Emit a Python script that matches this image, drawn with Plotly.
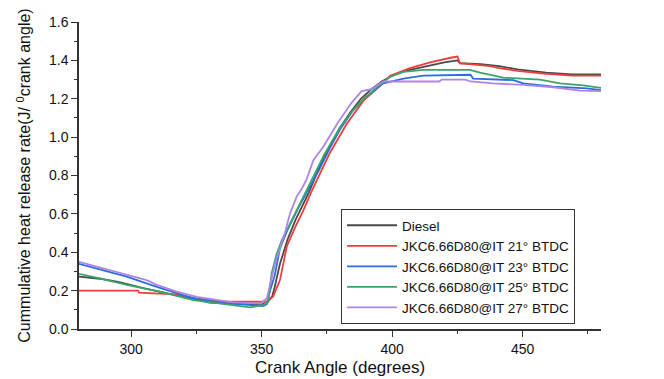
import plotly.graph_objects as go

names = ["Diesel", "JKC6.66D80@IT 21° BTDC", "JKC6.66D80@IT 23° BTDC",
         "JKC6.66D80@IT 25° BTDC", "JKC6.66D80@IT 27° BTDC"]
colors = ["#4a4a4a", "#f23c3c", "#2a6fdb", "#3aa56a", "#b283e6"]

diesel_x = [280, 288, 295, 305, 317, 325, 330, 339, 345, 350, 352, 354, 355, 357, 360, 363, 366, 368, 372, 376,
            380, 384, 388, 392, 396, 400, 405, 410, 415, 420, 425, 426, 434, 441, 448, 459, 469, 480]
diesel_y = [0.273, 0.262, 0.245, 0.212, 0.177, 0.155, 0.137, 0.13, 0.128, 0.128, 0.135, 0.17, 0.22, 0.34, 0.47,
            0.57, 0.65, 0.71, 0.84, 0.95, 1.05, 1.13, 1.2, 1.25, 1.29, 1.32, 1.345, 1.36, 1.375, 1.39, 1.40, 1.385,
            1.38, 1.37, 1.353, 1.336, 1.327, 1.327]

red_x = [280, 302.6, 303, 317, 325, 334, 352, 354.4, 357, 359.6, 362.8, 366, 369.2, 372, 376.2, 382.6, 389,
         394.7, 399.2, 406.8, 414.5, 422.8, 425, 426, 437.5, 441, 448, 459, 469, 480]
red_y = [0.2, 0.2, 0.19, 0.18, 0.16, 0.142, 0.142, 0.17, 0.255, 0.43, 0.53, 0.62, 0.72, 0.8, 0.92, 1.07, 1.19,
         1.26, 1.32, 1.36, 1.39, 1.415, 1.42, 1.385, 1.37, 1.36, 1.345, 1.33, 1.32, 1.32]

blue_x = [280, 290, 298.3, 309.8, 323.8, 336.6, 345, 350.6, 352, 353.2, 355, 357, 360, 364, 368, 372, 376, 380,
          385, 390, 396.6, 404.3, 412, 430, 431, 446.4, 450.2, 461.7, 474.5, 480]
blue_y = [0.34, 0.305, 0.273, 0.22, 0.16, 0.134, 0.125, 0.12, 0.13, 0.2, 0.28, 0.42, 0.52, 0.63, 0.73, 0.83,
          0.94, 1.04, 1.14, 1.21, 1.28, 1.305, 1.32, 1.325, 1.305, 1.297, 1.28, 1.263, 1.254, 1.245]

green_x = [280, 288, 298.3, 311, 323.8, 337.9, 345.5, 350.6, 352.5, 353.8, 355.7, 357.6, 360.2, 363, 366.6, 370,
           374, 380, 385, 390, 395, 399.2, 404.3, 412, 429.8, 433.6, 442.6, 456.6, 464.3, 473.2, 480]
green_y = [0.287, 0.264, 0.23, 0.195, 0.151, 0.125, 0.113, 0.125, 0.14, 0.29, 0.39, 0.46, 0.53, 0.61, 0.71, 0.8,
           0.91, 1.05, 1.14, 1.21, 1.27, 1.315, 1.34, 1.35, 1.35, 1.336, 1.31, 1.30, 1.28, 1.27, 1.257]

purple_x = [280, 289.3, 298.3, 305.9, 309.8, 317.4, 325.1, 332.8, 339.1, 349.5, 352, 355.1, 358.9, 360.8, 363.4,
            365.3, 367.2, 369.8, 373.6, 379.4, 384.5, 388.3, 392.1, 396.6, 403, 418, 419, 428, 430, 438.7, 450.2,
            461.7, 472, 480]
purple_y = [0.35, 0.316, 0.28, 0.255, 0.23, 0.195, 0.168, 0.151, 0.139, 0.133, 0.16, 0.34, 0.5, 0.6, 0.69,
            0.73, 0.78, 0.88, 0.95, 1.08, 1.18, 1.24, 1.25, 1.29, 1.29, 1.29, 1.30, 1.30, 1.29, 1.28, 1.272,
            1.26, 1.242, 1.24]

xs = [diesel_x, red_x, blue_x, green_x, purple_x]
ys = [diesel_y, red_y, blue_y, green_y, purple_y]

fig = go.Figure()
for n, c, x, y in zip(names, colors, xs, ys):
    fig.add_trace(go.Scatter(x=x, y=y, mode="lines", name=n,
                             line=dict(color=c, width=1.8)))

font_family = "Liberation Sans, Arial, sans-serif"
fig.update_layout(
    width=664, height=379,
    margin=dict(l=79, r=63, t=22, b=50, autoexpand=False),
    paper_bgcolor="white", plot_bgcolor="white",
    font=dict(family=font_family, color="#111111"),
    showlegend=True,
    legend=dict(x=0.502, y=0.391, xanchor="left", yanchor="top",
                bgcolor="white", bordercolor="#333333", borderwidth=1,
                font=dict(size=13.5, color="#111111"), itemwidth=50,
                tracegroupgap=0),
    xaxis=dict(range=[280, 480], tickmode="linear", tick0=300, dtick=50, automargin=False,
               showgrid=False, zeroline=False, showline=True, linecolor="#333333", linewidth=1.5,
               ticks="outside", ticklen=6, tickwidth=1.2, tickcolor="#333333",
               minor=dict(dtick=25, tick0=300, ticks="outside", ticklen=3, tickcolor="#333333", showgrid=False),
               tickfont=dict(size=14),
               title=dict(text="Crank Angle (degrees)", font=dict(size=17), standoff=6)),
    yaxis=dict(range=[0, 1.6], tickmode="linear", tick0=0, dtick=0.2, tickformat=".1f", automargin=False,
               showgrid=False, zeroline=False, showline=True, linecolor="#333333", linewidth=1.5,
               ticks="outside", ticklen=6, tickwidth=1.2, tickcolor="#333333",
               minor=dict(dtick=0.1, ticks="outside", ticklen=3, tickcolor="#333333", showgrid=False),
               tickfont=dict(size=14),
               title=dict(text="Cummulative heat release rate(J/ <sup>0</sup>crank angle)",
                          font=dict(size=16), standoff=14)),
)

fig.write_html("out.html")
